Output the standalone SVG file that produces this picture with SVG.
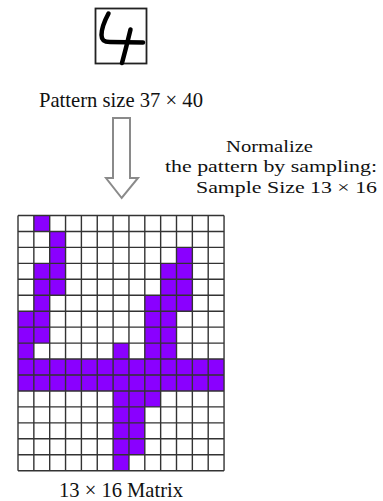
<svg xmlns="http://www.w3.org/2000/svg" width="383" height="501" viewBox="0 0 383 501">
<style>
  text { font-family: "Liberation Serif", "Times New Roman", serif; font-size: 21px; fill: #111; }
  .mid { text-anchor: middle; }
  .note { font-size: 17.5px; }
  .cell { fill: #8a00ff; }
  .grid { stroke: #333; stroke-width: 1.4; fill: none; }
</style>
<rect x="0" y="0" width="383" height="501" fill="#fff"/>

<g id="digit">
  <rect x="95.5" y="8.5" width="51" height="55" fill="#fff" stroke="#222" stroke-width="1.8"/>
  <path d="M108.5,13.5 C105,20 101.5,28 101.5,35 C101.5,40 104,42 110,42 L143,42.5" fill="none" stroke="#000" stroke-width="4.5" stroke-linecap="round" stroke-linejoin="round"/>
  <path d="M130.5,29.5 C128,40 125,52 122,63" fill="none" stroke="#000" stroke-width="4.5" stroke-linecap="round"/>
</g>

<g id="pattern-label">
  <text class="mid" x="121" y="106.5" textLength="164" lengthAdjust="spacingAndGlyphs">Pattern size 37 × 40</text>
</g>

<g id="normalize-label">
  <text class="note" x="226" y="151.5" textLength="87" lengthAdjust="spacingAndGlyphs">Normalize</text>
  <text class="note" x="165" y="172" textLength="212" lengthAdjust="spacingAndGlyphs">the pattern by sampling:</text>
  <text class="note" x="196" y="192.5" textLength="181" lengthAdjust="spacingAndGlyphs">Sample Size 13 × 16</text>
</g>

<g id="connectors">
  <path d="M113,118 H130 V178 H138 L121.7,198 L106,178 H113 Z" fill="#fff" stroke="#8a8a8a" stroke-width="2" stroke-linejoin="miter"/>
</g>

<g id="matrix">
  <g transform="translate(18 215.5) scale(15.85 15.95)">
    <path class="cell" d="
      M1 0h1v1h-1z
      M2 1h1v2h-1z
      M10 2h1v4h-1z
      M1 3h2v2h-2z
      M9 3h1v5h-1z
      M1 5h1v1h-1z
      M8 5h1v4h-1z
      M0 6h2v2h-2z
      M0 8h1v1h-1z
      M6 8h1v1h-1z
      M9 8h1v1h-1z
      M0 9h13v2h-13z
      M6 11h3v1h-3z
      M6 12h2v3h-2z
      M6 15h1v1h-1z"/>
    <path class="grid" vector-effect="non-scaling-stroke" d="
      M0 0H13 M0 1H13 M0 2H13 M0 3H13 M0 4H13 M0 5H13 M0 6H13 M0 7H13 M0 8H13
      M0 9H13 M0 10H13 M0 11H13 M0 12H13 M0 13H13 M0 14H13 M0 15H13 M0 16H13
      M0 0V16 M1 0V16 M2 0V16 M3 0V16 M4 0V16 M5 0V16 M6 0V16 M7 0V16
      M8 0V16 M9 0V16 M10 0V16 M11 0V16 M12 0V16 M13 0V16"/>
  </g>
</g>

<g id="matrix-label">
  <text class="mid" x="121" y="497" textLength="124" lengthAdjust="spacingAndGlyphs">13 × 16 Matrix</text>
</g>
</svg>
